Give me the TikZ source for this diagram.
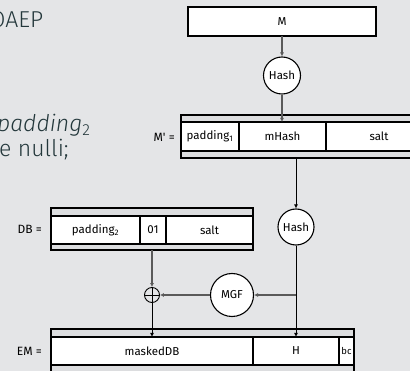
\documentclass[tikz,border=0pt]{standalone}
\usepackage{fontspec}
\setmainfont{Fira Sans}
\newfontfamily\diagfont{Fira Sans}[Ligatures=TeXOff]
\newfontfamily\slidefont{Fira Sans}[UprightFont=* Light, ItalicFont=* Light Italic]
\usetikzlibrary{arrows.meta}
\definecolor{slidebg}{HTML}{E4E5E7}
\definecolor{bandgrey}{HTML}{DCDDDF}
\definecolor{slidetext}{HTML}{23373B}
\definecolor{wiregrey}{HTML}{5A5A5A}
\begin{document}
\begin{tikzpicture}[x=1pt,y=-1pt,
  band/.style={draw=black, line width=1.1pt, fill=bandgrey, inner sep=0pt, outer sep=0pt},
  cell/.style={draw=black, line width=1.1pt, fill=white, inner sep=0pt, outer sep=0pt,
    font=\diagfont\fontsize{11.5}{13}\selectfont},
  fnode/.style={circle, draw=black, line width=1.1pt, fill=white, inner sep=0pt,
    font=\diagfont\fontsize{11.5}{13}\selectfont},
  lbl/.style={anchor=east, inner sep=0pt, font=\diagfont\fontsize{12}{14}\selectfont},
  wire/.style={draw=wiregrey, line width=1.2pt, -{Latex[length=4pt,width=4pt]}},
  wireblk/.style={draw=black, line width=0.8pt, -{Latex[length=4pt,width=4pt]}},
  slide/.style={inner sep=0pt, anchor=base west, text=slidetext,
    font=\slidefont\fontsize{23}{27}\selectfont}
]
\fill[slidebg] (0,0) rectangle (410,371);
\useasboundingbox (0,0) rectangle (410,371);
\clip (0,0) rectangle (410,371);

% text of the slide, running off the left edge
\node[slide] (title) at (-10.5,28) {OAEP};
\node[slide] (padtxt) at (-3,132) {\itshape padding\raisebox{-4pt}{\fontsize{16}{18}\selectfont\upshape 2}};
\node[slide] (nulli) at (-1,157) {e nulli;};

% message and first hash
\node[cell, minimum width=188, minimum height=29] (M) at (282,21.5) {M};
\node[fnode, minimum size=37] (hasha) at (282,75.5) {Hash};

% M' row
\node[band, minimum width=259, minimum height=43] (mpband) at (310.5,136.5) {};
\node[cell, minimum width=58, minimum height=29] (pad1) at (210,136.5) {padding\textsubscript{1}};
\node[cell, minimum width=87, minimum height=29] (mhash) at (282.5,136.5) {mHash};
\node[cell, minimum width=106, minimum height=29] (salta) at (379,136.5) {salt};
\node[lbl] (mplbl) at (175,137) {M' =};

% second hash and MGF
\node[fnode, minimum size=36] (hashb) at (296,227) {Hash};
\node[fnode, minimum size=43] (mgf) at (232,295) {MGF};

% DB row
\node[band, minimum width=202, minimum height=42] (dbband) at (152,229) {};
\node[cell, minimum width=89, minimum height=28] (pad2) at (95.5,230) {padding\textsubscript{2}};
\node[cell, minimum width=26, minimum height=28] (one) at (153,230) {01};
\node[cell, minimum width=87, minimum height=28] (saltb) at (209.5,230) {salt};
\node[lbl] (dblbl) at (42,229.5) {DB =};

% XOR
\node[circle, draw=black, line width=0.9pt, fill=slidebg, minimum size=15, inner sep=0pt] (xor) at (152,295) {};
\draw[black, line width=0.9pt] (xor.north) -- (xor.south) (xor.west) -- (xor.east);

% EM row
\node[band, minimum width=303, minimum height=51] (emband) at (202.5,354.5) {};
\node[cell, minimum width=202, minimum height=28] (masked) at (152,351) {maskedDB};
\node[cell, minimum width=86, minimum height=28] (H) at (296,351) {H};
\node[cell, minimum width=15, minimum height=28, font=\diagfont\fontsize{9.5}{11}\selectfont] (bc) at (346.5,351) {bc};
\node[lbl] (emlbl) at (42,351.5) {EM =};

% connectors
\draw[wire] (M) -- (hasha);
\draw[wire] (hasha) -- (hasha |- mhash.north);
\draw[wireblk] (hashb |- mpband.south) -- (hashb);
\draw[wireblk] (hashb) -- (H.north);
\draw[wire] (hashb |- mgf) -- (mgf);
\draw[wire] (mgf) -- (xor);
\draw[wire] (dbband.south -| xor) -- (xor);
\draw[wireblk] (xor) -- (xor |- masked.north);
\end{tikzpicture}
\end{document}
